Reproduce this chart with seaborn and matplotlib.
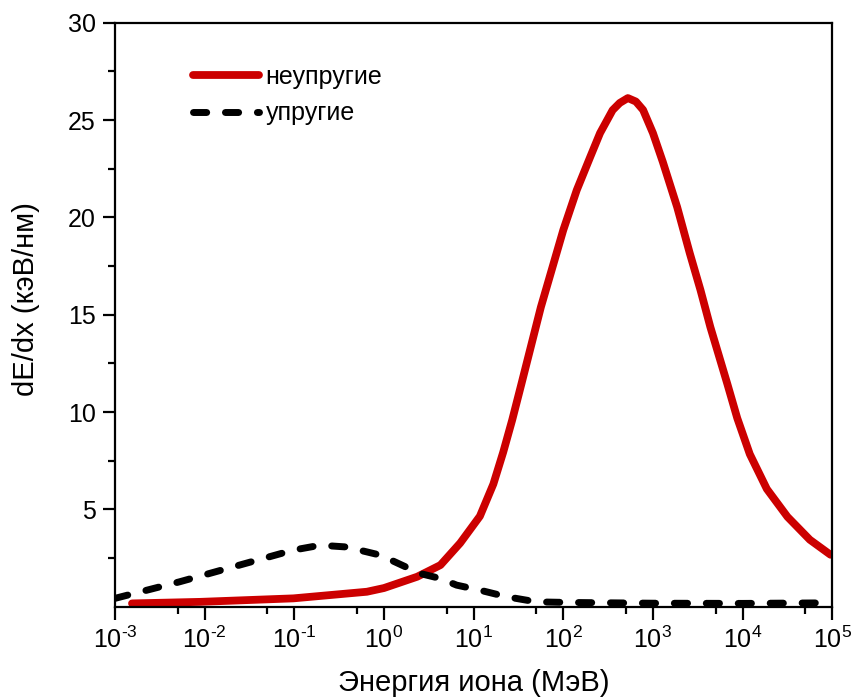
import numpy as np
import pandas as pd
import matplotlib
matplotlib.use("Agg")
import matplotlib.pyplot as plt
import seaborn as sns
from matplotlib.ticker import FixedLocator, FixedFormatter, NullFormatter

# ---- data ----
inel_logE = [-2.81, -2.05, -1.01, -0.19, 0.0, 0.37, 0.63, 0.85, 1.07, 1.22,
             1.33, 1.43, 1.53, 1.64, 1.75, 1.87, 2.00, 2.15, 2.30, 2.41, 2.55,
             2.63, 2.72, 2.81, 2.89, 3.00, 3.11, 3.27, 3.41, 3.53, 3.64, 3.83,
             3.94, 4.08, 4.27, 4.50, 4.75, 4.98]
inel_val = [0.17, 0.25, 0.43, 0.77, 0.96, 1.54, 2.14, 3.27, 4.65, 6.30,
            7.94, 9.59, 11.39, 13.39, 15.39, 17.29, 19.35, 21.40, 23.10, 24.33, 25.51,
            25.88, 26.13, 25.95, 25.52, 24.33, 22.85, 20.53, 18.17, 16.27, 14.37, 11.44,
            9.69, 7.84, 6.05, 4.62, 3.44, 2.67]

el_logE = [-3.0, -2.28, -1.68, -1.01, -0.71, -0.42, -0.04, 0.40, 0.63, 0.81,
           1.07, 1.37, 1.70, 2.04, 3.0, 4.0, 5.0]
el_val = [0.43, 1.28, 2.05, 2.91, 3.16, 3.07, 2.65, 1.71, 1.45, 1.11,
          0.85, 0.51, 0.25, 0.22, 0.18, 0.17, 0.20]

series_names = ["неупругие", "упругие"]
x_label = "Энергия иона (МэВ)"
y_label = "dE/dx (кэВ/нм)"
x_decades = [-3, -2, -1, 0, 1, 2, 3, 4, 5]
y_ticks = [5, 10, 15, 20, 25, 30]

df_inel = pd.DataFrame({"E": np.power(10.0, inel_logE), "v": inel_val})
df_el = pd.DataFrame({"E": np.power(10.0, el_logE), "v": el_val})

sns.set_theme(style="ticks")
plt.rcParams["font.family"] = ["Liberation Sans", "DejaVu Sans"]
plt.rcParams["mathtext.fontset"] = "custom"
plt.rcParams["mathtext.rm"] = "Liberation Sans"
plt.rcParams["mathtext.it"] = "Liberation Sans"
plt.rcParams["mathtext.default"] = "regular"
plt.rcParams["axes.unicode_minus"] = False
plt.rcParams["text.color"] = "black"
plt.rcParams["axes.labelcolor"] = "black"

fig = plt.figure(figsize=(8.51, 6.99), dpi=100)
ax = fig.add_axes([0.1351, 0.132, 0.8429, 0.8355])

sns.lineplot(data=df_inel, x="E", y="v", ax=ax, color="#cc0000", linewidth=5.6,
             label=series_names[0], solid_capstyle="round",
             solid_joinstyle="round", sort=False)
sns.lineplot(data=df_el, x="E", y="v", ax=ax, color="black", linewidth=5.0,
             label=series_names[1], dash_capstyle="round", sort=False)
ax.lines[1].set_dashes([1.9, 2.7])

ax.set_xscale("log")
ax.set_xlim(1e-3, 1e5)
ax.set_ylim(0, 30)

ax.xaxis.set_major_locator(FixedLocator([10.0 ** d for d in x_decades]))
ax.xaxis.set_major_formatter(
    FixedFormatter([f"$10^{{\\text{{{d}}}}}$" for d in x_decades]))
ax.xaxis.set_minor_locator(FixedLocator([5 * 10.0 ** d for d in x_decades[:-1]]))
ax.xaxis.set_minor_formatter(NullFormatter())
ax.yaxis.set_major_locator(FixedLocator(y_ticks))
ax.yaxis.set_minor_locator(FixedLocator([t - 2.5 for t in y_ticks]))

ax.tick_params(axis="both", which="major", direction="out", length=9, width=1.6,
               labelsize=18, colors="black", pad=5)
ax.tick_params(axis="both", which="minor", direction="out", length=5, width=1.6,
               colors="black")
for s in ax.spines.values():
    s.set_linewidth(1.6)
    s.set_color("black")
    s.set_visible(True)

ax.set_xlabel(x_label, fontsize=21, labelpad=12)
ax.set_ylabel(y_label, fontsize=21)
ax.yaxis.set_label_coords(-0.104, 0.527)

leg = ax.legend(loc="upper left", bbox_to_anchor=(0.095, 0.945), frameon=False,
                fontsize=18, handlelength=2.65, handletextpad=0.25, labelspacing=0.5,
                borderaxespad=0)

fig.savefig("out.png", dpi=100)
